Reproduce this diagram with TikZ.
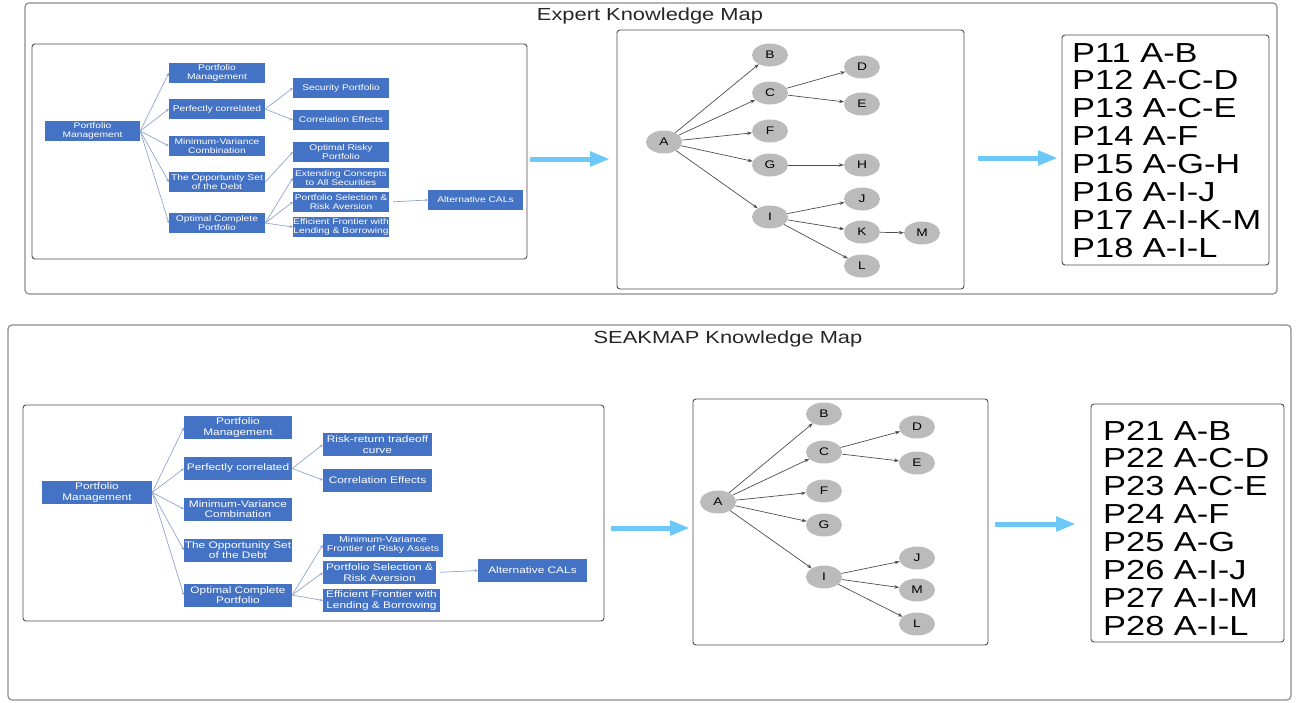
\documentclass[tikz,border=0pt]{standalone}
\usepackage{fontspec}
\setmainfont{Liberation Sans}[FakeStretch=1.25]
\usetikzlibrary{arrows.meta,shapes.geometric}
\definecolor{boxblue}{HTML}{4472C4}
\definecolor{linkblue}{HTML}{91A5D0}
\definecolor{nodegray}{HTML}{BBBBBB}
\definecolor{edgegray}{HTML}{4D4D4D}
\definecolor{flowblue}{HTML}{6CC8F7}
\definecolor{framegray}{HTML}{8C8C8C}
\tikzset{
  frame/.style={draw=framegray, line width=1.2pt, rounded corners=4pt},
  panel/.style={draw=black!70, line width=0.9pt, rounded corners=3pt},
  topic/.style={fill=boxblue, text=white, inner sep=0pt, align=center},
  tbox/.style={topic, minimum width=96pt, minimum height=20pt, font=\fontsize{8.2}{8.6}\selectfont},
  bbox/.style={topic, minimum width=108pt, minimum height=23pt, font=\fontsize{9.5}{10.2}\selectfont},
  link/.style={draw=linkblue, line width=0.7pt, -{Stealth[length=3pt,width=3pt]}},
  vertex/.style={ellipse, fill=nodegray, minimum width=36pt, minimum height=23pt, inner sep=0pt, font=\fontsize{11}{11}\selectfont},
  edge/.style={draw=edgegray, line width=0.7pt, -{Stealth[length=5pt,width=3.5pt]}},
  flow/.style={draw=flowblue, line width=5pt, -{Triangle[length=20pt,width=14pt]}},
  pathlist/.style={anchor=base west, inner sep=0pt, font=\fontsize{27.5}{28}\selectfont},
  heading/.style={font=\fontsize{17.5}{18}\selectfont, text=black!85},
}
\begin{document}
\begin{tikzpicture}[x=1pt, y=-1pt]
  \useasboundingbox (0,0) rectangle (1299,702);
  % frames
  \draw[frame] (25,3) rectangle (1277,294);
  \draw[frame] (8,325) rectangle (1291,700);
  \draw[panel] (32,44) rectangle (527,259);
  \draw[panel] (617,30) rectangle (964,289);
  \draw[panel] (1062,35) rectangle (1269,265);
  \draw[panel] (23,405) rectangle (604,621);
  \draw[panel] (693,399) rectangle (988,645);
  \draw[panel] (1091,404) rectangle (1284,642);
  \node[heading] (tTitle) at (650,16) {Expert Knowledge Map};
  \node[heading] (bTitle) at (728,339) {SEAKMAP Knowledge Map};

  % expert tree
  \node[tbox, minimum width=95pt] (tRoot) at (92.5,131) {Portfolio\\Management};
  \node[tbox] (tPM) at (217,73) {Portfolio\\Management};
  \node[tbox] (tPC) at (217,109) {Perfectly correlated};
  \node[tbox] (tMV) at (217,146) {Minimum-Variance\\Combination};
  \node[tbox] (tOS) at (217,182) {The Opportunity Set\\of the Debt};
  \node[tbox] (tOC) at (217,223) {Optimal Complete\\Portfolio};
  \node[tbox] (tSP) at (341,88) {Security Portfolio};
  \node[tbox] (tCE) at (341,120) {Correlation Effects};
  \node[tbox] (tOR) at (341,152) {Optimal Risky\\Portfolio};
  \node[tbox] (tEC) at (341,178) {Extending Concepts\\to All Securities};
  \node[tbox] (tPS) at (341,202) {Portfolio Selection \&\\Risk Aversion};
  \node[tbox] (tEF) at (341,227) {Efficient Frontier with\\Lending \& Borrowing};
  \node[tbox, minimum width=95pt] (tAC) at (475.5,200) {Alternative CALs};
  \begin{scope}[link]
    \draw (tRoot.east) -- (tPM.west);
    \draw (tRoot.east) -- (tPC.west);
    \draw (tRoot.east) -- (tMV.west);
    \draw (tRoot.east) -- (tOS.west);
    \draw (tRoot.east) -- (tOC.west);
    \draw (tPC.east) -- (tSP.west);
    \draw (tPC.east) -- (tCE.west);
    \draw (tOS.east) -- (tOR.west);
    \draw (tOC.east) -- (tEC.west);
    \draw (tOC.east) -- (tPS.west);
    \draw (tOC.east) -- (tEF.west);
    \draw[shorten <=4pt] (tPS.east) -- (tAC.west);
  \end{scope}

  % expert graph
  \draw
    (664,142) node[vertex] (tA){A}
    (770,55) node[vertex] (tB){B}
    (770,93) node[vertex] (tC){C}
    (770,131) node[vertex] (tF){F}
    (770,165) node[vertex] (tG){G}
    (770,217) node[vertex] (tI){I}
    (862,67) node[vertex] (tD){D}
    (862,104) node[vertex] (tE){E}
    (862,165) node[vertex] (tH){H}
    (862,199) node[vertex] (tJ){J}
    (862,232) node[vertex] (tK){K}
    (862,266) node[vertex] (tL){L}
    (922,233) node[vertex] (tM){M};
  \begin{scope}[edge]
    \draw (tA) to (tB);
    \draw (tA) to (tC);
    \draw (tA) to (tF);
    \draw (tA) to (tG);
    \draw (tA) to (tI);
    \draw (tC) to (tD);
    \draw (tC) to (tE);
    \draw (tG) to (tH);
    \draw (tI) to (tJ);
    \draw (tI) to (tK);
    \draw (tI) to (tL);
    \draw (tK) to (tM);
  \end{scope}

  % expert paths
  \foreach \p [count=\i from 0] in {P11 A-B, P12 A-C-D, P13 A-C-E, P14 A-F, P15 A-G-H, P16 A-I-J, P17 A-I-K-M, P18 A-I-L}
    \node[pathlist] (tP\i) at (1072,{62+27.9*\i}) {\p};

  % seakmap tree
  \node[bbox, minimum width=110pt] (bRoot) at (97,492.5) {Portfolio\\Management};
  \node[bbox] (bPM) at (238,427.5) {Portfolio\\Management};
  \node[bbox] (bPC) at (238,468.5) {Perfectly correlated};
  \node[bbox] (bMV) at (238,509) {Minimum-Variance\\Combination};
  \node[bbox] (bOS) at (238,550) {The Opportunity Set\\of the Debt};
  \node[bbox] (bOC) at (238,595) {Optimal Complete\\Portfolio};
  \node[bbox, minimum width=109pt] (bRR) at (377.5,444.5) {Risk-return tradeoff\\curve};
  \node[bbox, minimum width=109pt] (bCE) at (377.5,480) {Correlation Effects};
  \node[bbox, minimum width=120pt, font=\fontsize{8.5}{9.5}\selectfont] (bMF) at (383,545) {Minimum-Variance\\Frontier of Risky Assets};
  \node[bbox, minimum width=113pt] (bPS) at (379.5,572.5) {Portfolio Selection \&\\Risk Aversion};
  \node[bbox, minimum width=117pt] (bEF) at (381.5,600.5) {Efficient Frontier with\\Lending \& Borrowing};
  \node[bbox, minimum width=109pt] (bAC) at (532.5,570.5) {Alternative CALs};
  \begin{scope}[link]
    \draw (bRoot.east) -- (bPM.west);
    \draw (bRoot.east) -- (bPC.west);
    \draw (bRoot.east) -- (bMV.west);
    \draw (bRoot.east) -- (bOS.west);
    \draw (bRoot.east) -- (bOC.west);
    \draw (bPC.east) -- (bRR.west);
    \draw (bPC.east) -- (bCE.west);
    \draw (bOC.east) -- (bMF.west);
    \draw (bOC.east) -- (bPS.west);
    \draw (bOC.east) -- (bEF.west);
    \draw[shorten <=4pt] (bPS.east) -- (bAC.west);
  \end{scope}

  % seakmap graph
  \draw
    (718,502) node[vertex] (bA){A}
    (824,414) node[vertex] (bB){B}
    (824,452) node[vertex] (bC){C}
    (824,491) node[vertex] (bF){F}
    (824,525) node[vertex] (bG){G}
    (824,577) node[vertex] (bI){I}
    (917,427) node[vertex] (bD){D}
    (917,463) node[vertex] (bE){E}
    (917,558) node[vertex] (bJ){J}
    (917,590) node[vertex] (bM){M}
    (917,624) node[vertex] (bL){L};
  \begin{scope}[edge]
    \draw (bA) to (bB);
    \draw (bA) to (bC);
    \draw (bA) to (bF);
    \draw (bA) to (bG);
    \draw (bA) to (bI);
    \draw (bC) to (bD);
    \draw (bC) to (bE);
    \draw (bI) to (bJ);
    \draw (bI) to (bM);
    \draw (bI) to (bL);
  \end{scope}

  % seakmap paths
  \foreach \p [count=\i from 0] in {P21 A-B, P22 A-C-D, P23 A-C-E, P24 A-F, P25 A-G, P26 A-I-J, P27 A-I-M, P28 A-I-L}
    \node[pathlist] (bP\i) at (1103,{440+27.9*\i}) {\p};

  % flow arrows
  \coordinate (f1a) at (530,159);
  \coordinate (f1b) at (610,159);
  \coordinate (f2a) at (978,158);
  \coordinate (f2b) at (1058,158);
  \coordinate (f3a) at (611,528);
  \coordinate (f3b) at (690,528);
  \coordinate (f4a) at (995,524);
  \coordinate (f4b) at (1076,524);
  \draw[flow] (f1a) -- (f1b);
  \draw[flow] (f2a) -- (f2b);
  \draw[flow] (f3a) -- (f3b);
  \draw[flow] (f4a) -- (f4b);
\end{tikzpicture}
\end{document}
